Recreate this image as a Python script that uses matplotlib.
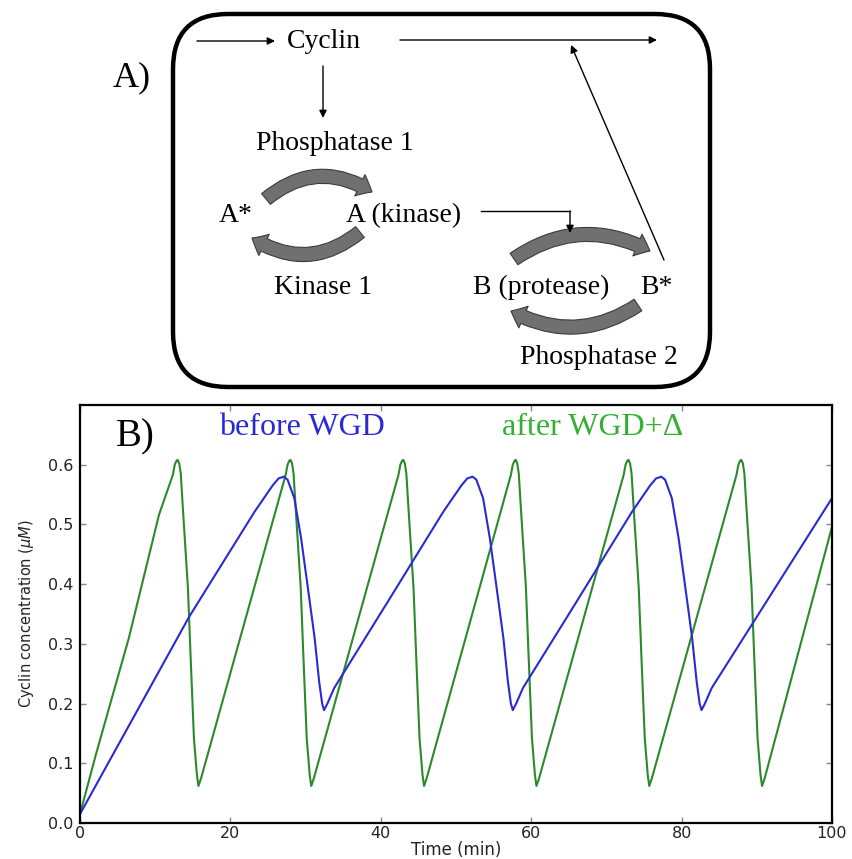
import matplotlib.pyplot as plt
from matplotlib.patches import FancyBboxPatch, FancyArrowPatch

# panel B data (time in min, cyclin in uM)
blue_t = [0, 14.5,
          23.2, 25.6, 26.4, 27.1, 27.6, 28.5, 29.4, 30.3, 31.2, 31.8, 32.2, 32.45, 32.9, 33.8,
          41.0,
          48.3, 50.7, 51.5, 52.2, 52.7, 53.6, 54.5, 55.4, 56.3, 56.9, 57.3, 57.55, 58.0, 58.9,
          66.0,
          73.4, 75.8, 76.6, 77.3, 77.8, 78.7, 79.6, 80.5, 81.4, 82.0, 82.4, 82.65, 83.1, 84.0,
          100]
blue_v = [0.015, 0.345,
          0.521, 0.565, 0.577, 0.580, 0.575, 0.544, 0.477, 0.394, 0.310, 0.237, 0.200, 0.189, 0.200, 0.226,
          0.372,
          0.521, 0.565, 0.577, 0.580, 0.575, 0.544, 0.477, 0.394, 0.310, 0.237, 0.200, 0.189, 0.200, 0.226,
          0.370,
          0.521, 0.565, 0.577, 0.580, 0.575, 0.544, 0.477, 0.394, 0.310, 0.237, 0.200, 0.189, 0.200, 0.226,
          0.544]

green_t = [0, 2.1, 6.5, 10.5,
           12.35, 12.6, 12.85, 13.0, 13.2, 13.4, 13.65, 14.35, 14.7, 15.15, 15.55, 15.75, 16.1,
           27.35, 27.6, 27.85, 28.0, 28.2, 28.4, 28.65, 29.35, 29.7, 30.15, 30.55, 30.75, 31.1,
           42.35, 42.6, 42.85, 43.0, 43.2, 43.4, 43.65, 44.35, 44.7, 45.15, 45.55, 45.75, 46.1,
           57.3, 57.55, 57.8, 57.95, 58.15, 58.35, 58.6, 59.3, 59.65, 60.1, 60.5, 60.7, 61.05,
           72.3, 72.55, 72.8, 72.95, 73.15, 73.35, 73.6, 74.3, 74.65, 75.1, 75.5, 75.7, 76.05,
           87.3, 87.55, 87.8, 87.95, 88.15, 88.35, 88.6, 89.3, 89.65, 90.1, 90.5, 90.7, 91.05,
           100]
green_v = [0.015, 0.114, 0.31, 0.516,
           0.583, 0.600, 0.607, 0.608, 0.602, 0.585, 0.533, 0.394, 0.281, 0.142, 0.080, 0.062, 0.075,
           0.583, 0.600, 0.607, 0.608, 0.602, 0.585, 0.533, 0.394, 0.281, 0.142, 0.080, 0.062, 0.075,
           0.583, 0.600, 0.607, 0.608, 0.602, 0.585, 0.533, 0.394, 0.281, 0.142, 0.080, 0.062, 0.075,
           0.583, 0.600, 0.607, 0.608, 0.602, 0.585, 0.533, 0.394, 0.281, 0.142, 0.080, 0.062, 0.075,
           0.583, 0.600, 0.607, 0.608, 0.602, 0.585, 0.533, 0.394, 0.281, 0.142, 0.080, 0.062, 0.075,
           0.583, 0.600, 0.607, 0.608, 0.602, 0.585, 0.533, 0.394, 0.281, 0.142, 0.080, 0.062, 0.075,
           0.496]

x_ticks = [0, 20, 40, 60, 80, 100]
y_ticks = [0.0, 0.1, 0.2, 0.3, 0.4, 0.5, 0.6]

W, H = 853, 859
fig = plt.figure(figsize=(W / 100, H / 100), dpi=100)

# background axes in pixel units for the diagram (panel A)
bg = fig.add_axes([0, 0, 1, 1])
bg.set_xlim(0, W)
bg.set_ylim(H, 0)
bg.axis('off')

serif = 'Liberation Serif'

box = FancyBboxPatch((173, 14), 537, 373, boxstyle='round,pad=0,rounding_size=55',
                     fc='none', ec='black', lw=3.2)
bg.add_patch(box)

bg.text(132, 78, 'A)', fontsize=26, family=serif, ha='center', va='center')


def line_arrow(start, end):
    bg.annotate('', xy=end, xytext=start,
                arrowprops=dict(arrowstyle='-|>', lw=1.0, color='black',
                                mutation_scale=11, shrinkA=0, shrinkB=0))


line_arrow((197, 41), (275, 41))
line_arrow((400, 40), (657, 40))
line_arrow((323, 66), (323, 118))
bg.plot([481, 570], [211, 211], color='black', lw=1.0)
line_arrow((570, 211), (570, 233))
line_arrow((664, 260), (571, 45))

labels = [
    ('Cyclin', 324, 42), ('Phosphatase 1', 335, 143), ('A*', 236, 216),
    ('A (kinase)', 404, 216), ('Kinase 1', 323, 288), ('B (protease)', 541, 287),
    ('B*', 656, 287), ('Phosphatase 2', 599, 358),
]
for txt, x, y in labels:
    bg.text(x, y, txt, fontsize=20, family=serif, ha='center', va='center')


def curved_arrow(start, end, rad):
    p = FancyArrowPatch(start, end, connectionstyle=f'arc3,rad={rad}',
                        arrowstyle='simple,head_length=10,head_width=17,tail_width=10',
                        mutation_scale=1, shrinkA=0, shrinkB=0,
                        fc='#707070', ec='#3c3c3c', lw=0.8)
    bg.add_patch(p)


curved_arrow((266, 199), (372, 192), -0.36)
curved_arrow((360, 232), (252, 238), -0.36)
curved_arrow((514, 259), (650, 251), -0.3)
curved_arrow((638, 305), (511, 311), -0.3)

# panel B plot
ax = fig.add_axes([80 / W, (H - 823) / H, (832 - 80) / W, (823 - 405) / H])
ax.plot(green_t, green_v, color='#2b8a2b', lw=1.5)
ax.plot(blue_t, blue_v, color='#2a2ad4', lw=1.5)
ax.set_xlim(0, 100)
ax.set_ylim(0, 0.7)
ax.set_xticks(x_ticks)
ax.set_yticks(y_ticks)
ax.set_yticklabels([f'{v:.1f}' for v in y_ticks])
ax.tick_params(direction='in', length=4, width=1, color='#888888', labelsize=11.5,
               labelcolor='#222222', top=True, right=True)
ax.tick_params(axis='y', pad=5)
ax.tick_params(axis='x', pad=2)
for s in ax.spines.values():
    s.set_linewidth(1.6)
ax.set_xlabel('Time (min)', fontsize=12, color='#222222', labelpad=0)
ax.set_ylabel('Cyclin concentration ($\\mu M$)', fontsize=10.5, color='#222222', labelpad=8)

ax.text(7.3, 0.647, 'B)', fontsize=28, family=serif, ha='center', va='center')
ax.text(29.5, 0.663, 'before WGD', fontsize=23, family=serif, color='#2a2ad4',
        ha='center', va='center')
ax.text(68.2, 0.663, 'after WGD+\u0394', fontsize=23, family=serif, color='#33b033',
        ha='center', va='center')

fig.savefig('out.png', dpi=100)
